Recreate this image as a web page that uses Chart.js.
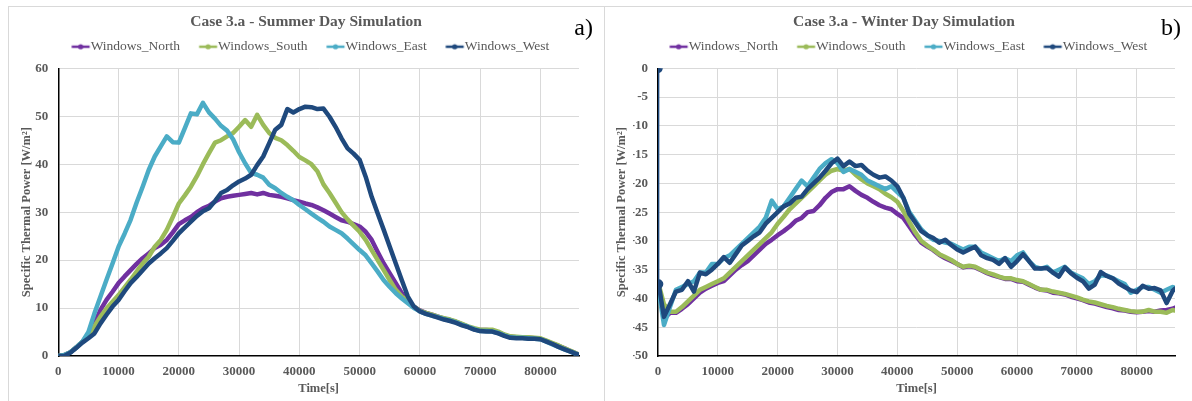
<!DOCTYPE html>
<html>
<head>
<meta charset="utf-8">
<script src="https://cdn.jsdelivr.net/npm/chart.js@4.4.1/dist/chart.umd.min.js"></script>
<style>
  html, body { margin: 0; padding: 0; background: #fff; }
  body { width: 1192px; height: 401px; position: relative; overflow: hidden; }
  .panel { position: absolute; top: 6px; border: 1px solid #d9d9d9; }
  #panel-a { left: 8px; }
  #panel-b { left: 605px; border-left: none; }
  canvas { display: block; }
</style>
</head>
<body>
<div class="panel" id="panel-a"><canvas id="chart-a" width="595" height="394"></canvas></div>
<div class="panel" id="panel-b"><canvas id="chart-b" width="590" height="394"></canvas></div>
<script>
// Series labels and colours
const SERIES_LABELS = ['Windows_North', 'Windows_South', 'Windows_East', 'Windows_West'];
const SERIES_COLORS = ['#7030A0', '#9BBB59', '#4BACC6', '#1F497D'];

// x ticks (seconds)
const TIME_TICKS = [0, 10000, 20000, 30000, 40000, 50000, 60000, 70000, 80000];

// Summer day - time stamps [s]
const summerTimes = [
  0, 1000, 2000, 3000, 4000, 5000, 6000, 7000, 8000, 9000,
  10000, 11000, 12000, 13000, 14000, 15000, 16000, 17000, 18000, 19000,
  20000, 21000, 22000, 23000, 24000, 25000, 26000, 27000, 28000, 29000,
  30000, 31000, 32000, 33000, 34000, 35000, 36000, 37000, 38000, 39000,
  40000, 41000, 42000, 43000, 44000, 45000, 46000, 47000, 48000, 49000,
  50000, 51000, 52000, 53000, 54000, 55000, 56000, 57000, 58000, 59000,
  60000, 61000, 62000, 63000, 64000, 65000, 66000, 67000, 68000, 69000,
  70000, 71000, 72000, 73000, 74000, 75000, 76000, 77000, 78000, 79000,
  80000, 81000, 82000, 83000, 84000, 85000, 86000, 86400
];

// Summer day - specific thermal power [W/m2]
const summerNorth = [
  0, 0.2, 0.8, 1.8, 3, 4.5, 6.8, 9.6, 11.7, 13.4,
  15.2, 16.6, 17.9, 19.2, 20.4, 21.4, 22.5, 23.2, 24.2, 25.8,
  27.5, 28.3, 29, 30, 30.8, 31.3, 32.2, 32.9, 33.2, 33.4,
  33.6, 33.8, 34, 33.7, 34, 33.6, 33.4, 33.2, 32.9, 32.5,
  32.2, 31.8, 31.5, 31, 30.4, 29.7, 29, 28.3, 28, 27.5,
  27, 25.9, 24.2, 21.7, 19.3, 17.2, 15.2, 13.1, 11.5, 10.3,
  9.5, 9, 8.6, 8.2, 7.8, 7.5, 7.1, 6.6, 6.1, 5.6,
  5.4, 5.4, 5.3, 4.9, 4.4, 4, 3.9, 3.8, 3.8, 3.7,
  3.6, 3.1, 2.6, 2.1, 1.6, 1, 0.5, 0.3
];
const summerSouth = [
  0, 0.2, 0.8, 1.8, 3, 4.2, 6.2, 8.2, 9.9, 11.3,
  12.7, 14.3, 15.9, 17.6, 19.3, 20.7, 22.8, 24.2, 26.3, 29,
  31.8, 33.5, 35.3, 37.5, 40, 42.3, 44.5, 45, 45.8, 46.5,
  47.8, 49.2, 47.8, 50.3, 48.2, 46.5, 45.5, 45, 44, 42.8,
  41.5, 40.8, 40, 38.5, 35.8, 34, 32, 30, 28.5, 27.2,
  25.9, 24.2, 22.1, 20, 17.9, 15.8, 13.8, 12.4, 11.5, 10.3,
  9.4, 9, 8.6, 8.2, 7.9, 7.6, 7.2, 6.7, 6.2, 5.8,
  5.5, 5.5, 5.5, 5.1, 4.5, 4.1, 4, 3.9, 3.9, 3.8,
  3.7, 3.2, 2.7, 2.2, 1.6, 1.1, 0.5, 0.3
];
const summerEast = [
  0, 0.2, 0.8, 1.8, 3, 5, 8.9, 12.4, 15.9, 19.3,
  22.8, 25.5, 28.4, 32, 35.3, 38.8, 41.6, 43.7, 45.8, 44.6,
  44.5, 47.5, 50.6, 50.4, 52.8, 50.8, 49.5, 48, 47, 45.2,
  42.5, 40.2, 38.2, 37.8, 37.2, 35.7, 35, 34, 33.2, 32.5,
  31.5, 30.6, 29.7, 28.8, 28, 27, 26.3, 25.6, 24.5, 23.3,
  22.1, 21, 19.3, 17.6, 15.8, 14.4, 13.1, 12, 11, 10,
  9.3, 8.8, 8.4, 8.1, 7.7, 7.4, 7, 6.5, 6.1, 5.6,
  5.2, 5.2, 5.1, 4.8, 4.3, 3.9, 3.8, 3.8, 3.7, 3.6,
  3.5, 3, 2.4, 1.9, 1.4, 0.9, 0.4, 0.2
];
const summerWest = [
  0, 0, 0.7, 1.7, 2.8, 3.7, 4.7, 6.8, 8.6, 10.3,
  11.7, 13.5, 15.2, 16.5, 17.9, 19.3, 20.4, 21.4, 22.5, 24,
  25.6, 26.8, 28, 29.2, 30.2, 30.8, 32.3, 34, 34.6, 35.6,
  36.4, 37, 37.8, 39.8, 41.6, 44.4, 47.2, 48.2, 51.5, 50.8,
  51.5, 52, 51.9, 51.5, 51.6, 49.9, 47.8, 45.4, 43.3, 42.2,
  40.9, 37.4, 33.2, 29.7, 26.3, 22.8, 19.3, 15.8, 12.4, 10.3,
  9.3, 8.8, 8.4, 8, 7.6, 7.3, 6.9, 6.4, 6, 5.5,
  5.2, 5.1, 5.1, 4.7, 4.2, 3.8, 3.7, 3.7, 3.6, 3.6,
  3.5, 3, 2.5, 1.9, 1.4, 0.9, 0.4, 0.2
];

// Winter day - time stamps [s]
const winterTimes = [
  0, 100,
  1000, 2000, 3000, 4000, 5000, 6000, 7000, 8000, 9000, 10000,
  11000, 12000, 13000, 14000, 15000, 16000, 17000, 18000, 19000, 20000,
  21000, 22000, 23000, 24000, 25000, 26000, 27000, 28000, 29000, 30000,
  31000, 32000, 33000, 34000, 35000, 36000, 37000, 38000, 39000, 40000,
  41000, 42000, 43000, 44000, 45000, 46000, 47000, 48000, 49000, 50000,
  51000, 52000, 53000, 54000, 55000, 56000, 57000, 58000, 59000, 60000,
  61000, 62000, 63000, 64000, 65000, 66000, 67000, 68000, 69000, 70000,
  71000, 72000, 73000, 74000, 75000, 76000, 77000, 78000, 79000, 80000,
  81000, 82000, 83000, 84000, 85000, 86000, 86400
];

// Winter day - specific thermal power [W/m2]
const winterNorth = [
  null, -38,
  -43.5, -42.5, -42.5, -41.8, -41, -40, -39, -38.3, -37.8, -37.3,
  -37, -36, -35, -34.2, -33.5, -32.5, -31.5, -30.5, -29.8, -29,
  -28.3, -27.5, -26.5, -26, -25, -24.8, -23.8, -22.5, -21.5, -21,
  -21, -20.5, -21.3, -22, -22.5, -23.2, -23.8, -24.2, -24.5, -25.3,
  -26, -27.5, -29, -30.3, -31, -31.6, -32.4, -33, -33.5, -34,
  -34.6, -34.4, -34.6, -35.1, -35.6, -36, -36.3, -36.6, -36.6, -37,
  -37.1, -37.6, -38.1, -38.5, -38.6, -39, -39.1, -39.3, -39.7, -40,
  -40.3, -40.7, -40.9, -41.2, -41.5, -41.7, -42, -42.1, -42.3, -42.4,
  -42.3, -42.2, -42.3, -42.1, -42, -41.8, -41.6
];
const winterSouth = [
  null, -37.5,
  -41, -42.3, -42.3, -41.5, -40.5, -39.5, -38.5, -38, -37.5, -37,
  -36.5, -35.5, -34.5, -33.5, -32.5, -31.5, -30.5, -29.5, -28.5, -27,
  -25.8, -24.5, -23.5, -22.5, -21.5, -20.5, -19.5, -18.5, -17.8, -17.5,
  -17.8, -17.5, -18.5, -19.3, -20, -20.5, -21, -21.8, -22.4, -23.2,
  -24.8, -26.7, -28.5, -30, -30.8, -31.5, -32.3, -32.8, -33.3, -34,
  -34.5, -34.3, -34.5, -35, -35.5, -35.8, -36.2, -36.5, -36.5, -36.8,
  -37, -37.5, -38, -38.5, -38.5, -38.8, -39, -39.2, -39.5, -39.8,
  -40.2, -40.5, -40.7, -41, -41.3, -41.5, -41.8, -42, -42.2, -42.3,
  -42.3, -42, -42.3, -42.3, -42.5, -42, -42.1
];
const winterEast = [
  null, -38.5,
  -44.6, -41.5, -38.5, -38, -37.5, -37, -35.5, -35.5, -34, -34,
  -33, -32.5, -31.5, -30.5, -29.5, -28.5, -27.5, -26, -23, -24.5,
  -24, -22.5, -21, -19.5, -20.5, -19, -17.5, -16.5, -15.8, -16.5,
  -18, -17.5, -18, -18.5, -19.5, -20, -20.5, -21, -20.5, -21.5,
  -22.5, -25, -26.5, -28, -29, -29.8, -30, -30.3, -30.5, -31,
  -31.5, -31, -31, -32, -32.5, -33, -33.5, -33, -33.5, -32.5,
  -32, -33.5, -34.5, -34.8, -34.5, -35.5, -35, -34.5, -35.5, -36,
  -36.5, -37.5, -37, -36, -36, -36.5, -37, -37.5, -39, -38.5,
  -38, -38, -38.5, -39, -38.5, -38, -38.2
];
const winterWest = [
  0, -37.5,
  -43.2, -41, -38.8, -38.5, -37, -38.8, -35.5, -35.8, -35, -34,
  -32.8, -33.8, -32.3, -30.8, -30, -29.2, -28.5, -27, -26, -25,
  -24, -23.5, -22.5, -22.3, -21, -20, -19, -17.8, -16.5, -15.7,
  -17, -16.2, -17, -16.8, -17.8, -18.5, -19, -18.8, -19.5, -20.5,
  -22.5, -25.3, -26.8, -28.3, -29, -29.5, -30.3, -29.8, -30.7, -31.5,
  -32, -31.5, -31, -32.5, -33, -33.3, -34, -33, -34.5, -33.5,
  -32.3, -33.5, -34.8, -34.8, -34.7, -35.5, -36.2, -34.6, -35.6, -36.4,
  -37, -38.3, -37.6, -35.4, -36.1, -36.5, -37.4, -38, -38.6, -38.9,
  -37.8, -38.3, -38.2, -38.6, -40.8, -38.7, -38.3
];

const GRAY = '#595959';
const GRID = '#d9d9d9';
const FONT = '"Liberation Serif", "DejaVu Serif", serif';

// legend geometry: marker drawn right next to its text
const LEGEND_FONT = 13.5;
const LEGEND_PAD = 10;
const ICON_LEN = 18;
const BOX_W = 19 - LEGEND_PAD + ICON_LEN - LEGEND_FONT / 2 + 1; // gap text->next marker ~19px

function makeIcon(color) {
  const iconStart = BOX_W + LEGEND_FONT / 2 - 1 - ICON_LEN; // relative to box left
  const center = BOX_W / 2;
  const half = Math.ceil(Math.max(center - iconStart, iconStart + ICON_LEN - center)) + 1;
  const c = document.createElement('canvas');
  c.width = half * 2;
  c.height = 8;
  const g = c.getContext('2d');
  const x0 = half - center + iconStart;
  g.strokeStyle = color;
  g.lineWidth = 2.5;
  g.beginPath();
  g.moveTo(x0, 4);
  g.lineTo(x0 + ICON_LEN, 4);
  g.stroke();
  g.fillStyle = color;
  g.beginPath();
  g.arc(x0 + ICON_LEN / 2, 4, 2.6, 0, Math.PI * 2);
  g.fill();
  return c;
}
const ICONS = SERIES_COLORS.map(makeIcon);

// keeps the plot area top at the same place as in the original figure
const LEGEND_HEIGHT = 38.3;
const legendHeight = {
  id: 'legendHeight',
  beforeLayout(chart) {
    const legend = chart.legend;
    if (!legend || legend._fixedFit) return;
    const fit = legend.fit;
    legend.fit = function () {
      fit.call(this);
      this.height = LEGEND_HEIGHT;
    };
    legend._fixedFit = true;
  }
};

// "a)" / "b)" tag in the top right corner
const panelTag = {
  id: 'panelTag',
  afterDraw(chart, args, opts) {
    const ctx = chart.ctx;
    ctx.save();
    ctx.font = '24px ' + FONT;
    ctx.fillStyle = '#000';
    ctx.textAlign = 'right';
    ctx.textBaseline = 'middle';
    ctx.fillText(opts.text, chart.width - opts.right, 22);
    ctx.restore();
  }
};

function makeSeries(times, values, i, extra) {
  return Object.assign({
    label: SERIES_LABELS[i],
    order: SERIES_LABELS.length - i,
    data: times.map((t, k) => ({ x: t, y: values[k] })),
    borderColor: SERIES_COLORS[i],
    backgroundColor: SERIES_COLORS[i],
    borderWidth: 4.5,
    pointRadius: 0,
    tension: 0,
    borderJoinStyle: 'round',
    borderCapStyle: 'round'
  }, extra || {});
}

function makeChart(canvasId, cfg) {
  return new Chart(document.getElementById(canvasId), {
    type: 'line',
    data: { datasets: cfg.datasets },
    plugins: [legendHeight, panelTag],
    options: {
      responsive: false,
      animation: false,
      events: [],
      layout: { padding: { left: cfg.padLeft, right: cfg.padRight, top: 0, bottom: 0 } },
      font: { family: FONT },
      plugins: {
        tooltip: { enabled: false },
        title: {
          display: true,
          text: cfg.title,
          color: GRAY,
          font: { family: FONT, size: 15.5, weight: 'bold' },
          padding: { top: 5.7, bottom: -1.3 }
        },
        legend: {
          display: true,
          position: 'top',
          labels: {
            color: GRAY,
            font: { family: FONT, size: LEGEND_FONT },
            usePointStyle: true,
            pointStyleWidth: BOX_W,
            padding: LEGEND_PAD,
            sort: (a, b) => a.datasetIndex - b.datasetIndex,
            generateLabels: chart => Chart.defaults.plugins.legend.labels.generateLabels(chart)
              .map(item => Object.assign(item, { pointStyle: ICONS[item.datasetIndex] }))
          }
        },
        panelTag: { text: cfg.tag, right: cfg.tagRight }
      },
      scales: {
        x: {
          type: 'linear',
          min: 0,
          max: 86400,
          afterBuildTicks: s => { s.ticks = TIME_TICKS.map(v => ({ value: v })); },
          ticks: {
            color: GRAY,
            font: { family: FONT, size: 13, weight: 'bold' },
            padding: 7.5,
            maxRotation: 0,
            autoSkip: false,
            callback: v => String(v)
          },
          grid: { color: c => (c.tick && c.tick.value === 0 ? 'transparent' : GRID), drawTicks: false },
          border: { color: '#000', width: 1.5 },
          title: {
            display: true,
            text: 'Time[s]',
            color: GRAY,
            font: { family: FONT, size: 12.5, weight: 'bold' },
            padding: { top: 0, bottom: 5.2 }
          },
          afterFit: s => { s.height = 45; }
        },
        y: {
          min: cfg.yMin,
          max: cfg.yMax,
          ticks: {
            stepSize: cfg.yStep,
            color: GRAY,
            font: { family: FONT, size: 13, weight: 'bold' },
            padding: 10,
            callback: v => String(v)
          },
          grid: { color: c => (c.tick && c.tick.value === cfg.yMin ? 'transparent' : GRID), drawTicks: false },
          border: { color: '#000', width: 1.5 },
          title: {
            display: true,
            text: 'Specific Thermal Power [W/m²]',
            color: GRAY,
            font: { family: FONT, size: 12.5, weight: 'bold' },
            padding: { top: cfg.yTitlePad, bottom: 0 }
          },
          afterFit: s => { s.width = cfg.yWidth; }
        }
      }
    }
  });
}

makeChart('chart-a', {
  title: 'Case 3.a - Summer Day Simulation',
  tag: 'a)', tagRight: 11,
  yMin: 0, yMax: 60, yStep: 10,
  padLeft: 24, padRight: 25,
  yWidth: 25.3, yTitlePad: -13.8,
  datasets: [
    makeSeries(summerTimes, summerNorth, 0),
    makeSeries(summerTimes, summerSouth, 1),
    makeSeries(summerTimes, summerEast, 2),
    makeSeries(summerTimes, summerWest, 3)
  ]
});

makeChart('chart-b', {
  title: 'Case 3.a - Winter Day Simulation',
  tag: 'b)', tagRight: 14,
  yMin: -50, yMax: 0, yStep: 5,
  padLeft: 28, padRight: 20,
  yWidth: 25, yTitlePad: -18.8,
  datasets: [
    makeSeries(winterTimes, winterNorth, 0),
    makeSeries(winterTimes, winterSouth, 1),
    makeSeries(winterTimes, winterEast, 2),
    makeSeries(winterTimes, winterWest, 3, {
      pointRadius: c => (c.dataIndex < 2 ? 2.5 : 0),
      segment: { borderWidth: c => (c.p0DataIndex === 0 ? 1.5 : undefined) }
    })
  ]
});
</script>
</body>
</html>
